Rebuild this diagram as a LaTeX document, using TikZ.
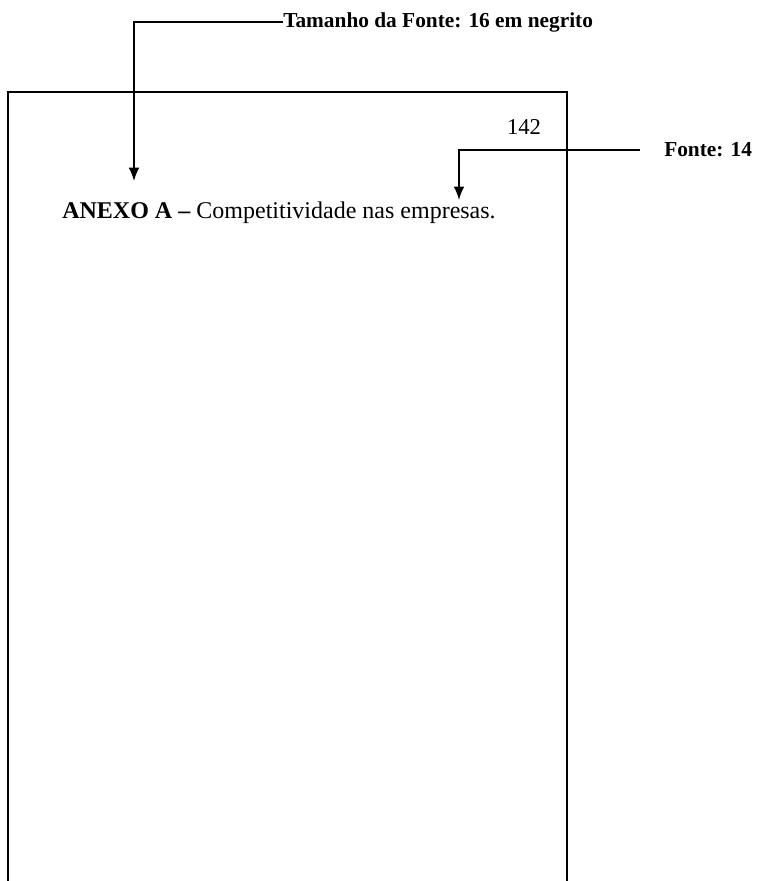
\documentclass[tikz,border=0pt]{standalone}
\usepackage{fontspec}
\setmainfont{Liberation Serif}
\usetikzlibrary{arrows.meta}
\tikzset{
    seta/.style={line width=1.2pt, -{Latex[length=10pt,width=8pt]}},
    nota/.style={inner sep=0pt, anchor=west, font=\fontsize{16}{18}\selectfont\bfseries},
}
\begin{document}
\begin{tikzpicture}[x=0.75pt,y=-0.75pt]
    \useasboundingbox (0,0) rectangle (757,881);
    % folha
    \draw[line width=1.1pt] (8,881) -- (8,92) -- (567,92) -- (567,881);
    \node[inner sep=0pt, font=\fontsize{17}{19}\selectfont] (pagina) at (524,127) {142};
    \node[inner sep=0pt, anchor=west, font=\fontsize{18}{21}\selectfont] (anexo) at (62,213)
        {\textbf{ANEXO A –} Competitividade nas empresas.};
    % notas
    \node[nota] (titulo) at (283,22) {Tamanho da Fonte: 16 em negrito};
    \node[nota] (fonte) at (664,150) {Fonte: 14};
    \coordinate (alvoA) at (134,181);
    \coordinate (alvoB) at (459,200);
    \draw[seta] (titulo.west) -| (alvoA);
    \draw[seta] ([xshift=-18pt]fonte.west) -| (alvoB);
\end{tikzpicture}
\end{document}
